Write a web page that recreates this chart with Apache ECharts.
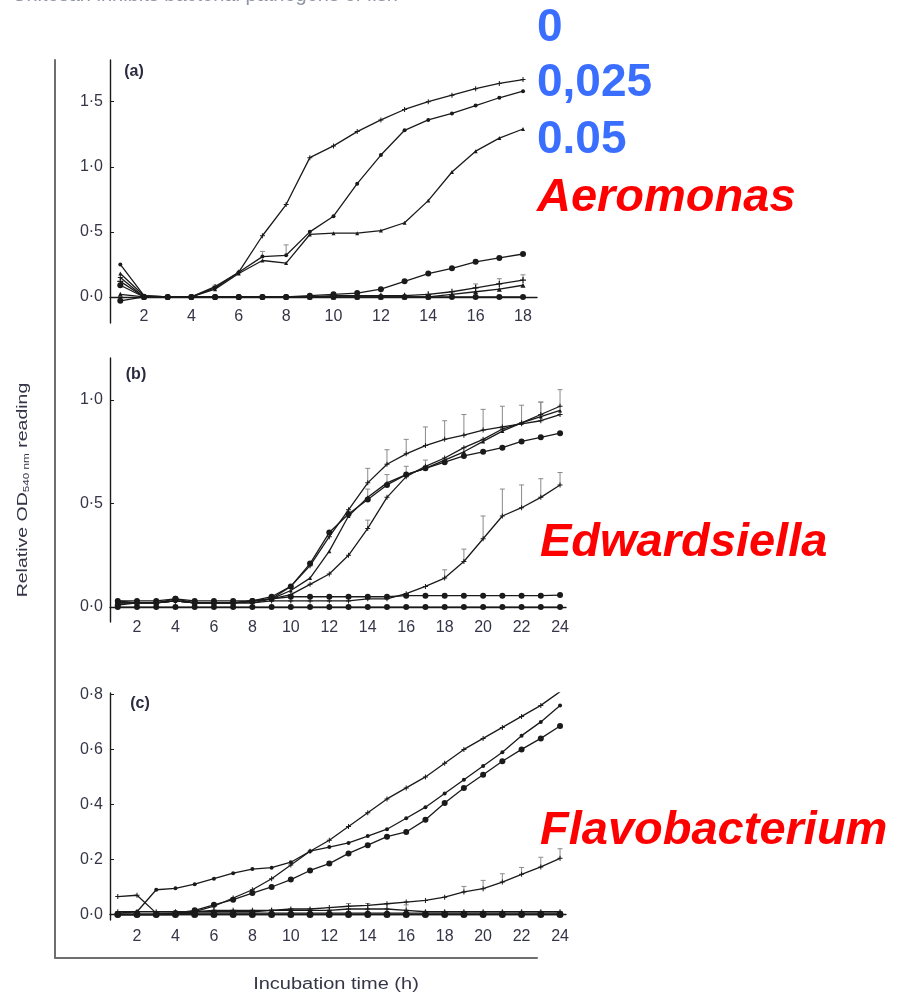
<!DOCTYPE html>
<html>
<head>
<meta charset="utf-8">
<title>Chitosan growth curves</title>
<script src="https://cdn.jsdelivr.net/npm/echarts@6/dist/echarts.min.js"></script>
<style>
  html, body { margin: 0; padding: 0; background: #fff; }
  #chart { width: 897px; height: 995px; }
</style>
</head>
<body>
<div id="chart"></div>
<script>
  // incubation hours
  var hoursA = [1, 2, 3, 4, 5, 6, 7, 8, 9, 10, 11, 12, 13, 14, 15, 16, 17, 18];
  var hoursBC = [1, 2, 3, 4, 5, 6, 7, 8, 9, 10, 11, 12, 13, 14, 15, 16, 17, 18, 19, 20, 21, 22, 23, 24];

  // tick labels
  var xTicksA = [2, 4, 6, 8, 10, 12, 14, 16, 18];
  var xTicksBC = [2, 4, 6, 8, 10, 12, 14, 16, 18, 20, 22, 24];
  var yTicksA = [0, 0.5, 1.0, 1.5];
  var yTicksB = [0, 0.5, 1.0];
  var yTicksC = [0, 0.2, 0.4, 0.6, 0.8];

  // (a) Aeromonas
  var aS1 = [0.15, 0, 0, 0, 0.08, 0.19, 0.47, 0.71, 1.07, 1.16, 1.27, 1.36, 1.44, 1.5, 1.55, 1.6, 1.64, 1.67];
  var aS2 = [0.25, 0.01, 0, 0, 0.07, 0.19, 0.31, 0.32, 0.5, 0.62, 0.87, 1.09, 1.28, 1.36, 1.41, 1.47, 1.53, 1.58];
  var aS3 = [0.18, 0.01, 0, 0, 0.06, 0.18, 0.28, 0.26, 0.48, 0.49, 0.49, 0.51, 0.57, 0.74, 0.96, 1.12, 1.22, 1.29];
  var aS4 = [0.09, 0, 0, 0, 0, 0, 0, 0, 0.01, 0.02, 0.03, 0.06, 0.12, 0.18, 0.22, 0.27, 0.3, 0.33];
  var aS5 = [0.12, 0, 0, 0, 0, 0, 0, 0, 0, 0.01, 0.01, 0.01, 0.01, 0.02, 0.04, 0.07, 0.1, 0.13];
  var aS6 = [0.02, 0, 0, 0, 0, 0, 0, 0, 0, 0, 0, 0, 0, 0, 0.02, 0.04, 0.06, 0.09];
  var aS7 = [-0.03, 0, 0, 0, 0, 0, 0, 0, 0, 0, 0, 0, 0, 0, 0, 0, 0, 0];
  var aErr2 = [0, 0, 0, 0, 0.02, 0, 0.04, 0.08, 0, 0, 0, 0, 0, 0, 0, 0, 0, 0];
  var aErr5 = [0, 0, 0, 0, 0, 0, 0, 0, 0, 0, 0, 0, 0, 0, 0, 0.03, 0.04, 0.04];

  // (b) Edwardsiella
  var bS1 = [0.02, 0.02, 0.02, 0.03, 0.02, 0.02, 0.02, 0.03, 0.04, 0.1, 0.2, 0.34, 0.47, 0.6, 0.69, 0.74, 0.78, 0.81, 0.83, 0.855, 0.87, 0.885, 0.9, 0.93];
  var bS2 = [0.01, 0.02, 0.02, 0.04, 0.02, 0.02, 0.02, 0.03, 0.05, 0.1, 0.21, 0.36, 0.45, 0.52, 0.59, 0.64, 0.67, 0.7, 0.73, 0.75, 0.77, 0.8, 0.82, 0.84];
  var bS3 = [0.02, 0.02, 0.02, 0.03, 0.02, 0.02, 0.02, 0.03, 0.04, 0.08, 0.14, 0.27, 0.44, 0.53, 0.6, 0.64, 0.67, 0.71, 0.75, 0.8, 0.85, 0.89, 0.92, 0.95];
  var bS4 = [0.03, 0.02, 0.02, 0.03, 0.02, 0.02, 0.02, 0.02, 0.04, 0.06, 0.11, 0.16, 0.25, 0.38, 0.53, 0.63, 0.68, 0.72, 0.77, 0.81, 0.86, 0.89, 0.93, 0.97];
  var bS5 = [0.02, 0.02, 0.02, 0.03, 0.02, 0.02, 0.02, 0.02, 0.03, 0.03, 0.03, 0.03, 0.03, 0.04, 0.04, 0.065, 0.1, 0.14, 0.22, 0.33, 0.44, 0.48, 0.53, 0.59];
  var bS6 = [0.03, 0.03, 0.03, 0.04, 0.03, 0.03, 0.03, 0.03, 0.04, 0.05, 0.05, 0.05, 0.05, 0.05, 0.05, 0.055, 0.055, 0.055, 0.055, 0.055, 0.055, 0.055, 0.055, 0.058];
  var bS7 = [0, 0, 0, 0, 0, 0, 0, 0, 0, 0, 0, 0, 0, 0, 0, 0, 0, 0, 0, 0, 0, 0, 0, 0];
  var bErr1 = [0, 0, 0, 0, 0, 0, 0, 0, 0, 0, 0, 0, 0, 0.07, 0.07, 0.07, 0.09, 0.09, 0.1, 0.1, 0.1, 0.09, 0.09, 0];
  var bErr2 = [0, 0, 0, 0, 0, 0, 0, 0, 0, 0, 0, 0, 0, 0.05, 0.05, 0.04, 0.04, 0, 0, 0, 0, 0, 0, 0];
  var bErr4 = [0, 0, 0, 0, 0, 0, 0, 0, 0, 0, 0, 0, 0, 0.04, 0, 0, 0, 0, 0, 0, 0, 0, 0.06, 0.08];
  var bErr5 = [0, 0, 0, 0, 0, 0, 0, 0, 0, 0, 0, 0, 0, 0, 0, 0, 0, 0.04, 0.06, 0.11, 0.13, 0.11, 0.09, 0.06];

  // (c) Flavobacterium
  var cS1 = [0, 0, 0, 0, 0.01, 0.03, 0.06, 0.09, 0.13, 0.18, 0.23, 0.27, 0.32, 0.37, 0.42, 0.46, 0.5, 0.55, 0.6, 0.64, 0.68, 0.72, 0.76, 0.81];
  var cS2 = [0.005, 0.01, 0.09, 0.095, 0.11, 0.13, 0.15, 0.165, 0.17, 0.19, 0.23, 0.245, 0.26, 0.285, 0.31, 0.35, 0.39, 0.44, 0.49, 0.54, 0.59, 0.65, 0.7, 0.76];
  var cS3 = [0, 0, 0, 0.005, 0.015, 0.035, 0.054, 0.078, 0.1, 0.127, 0.16, 0.185, 0.222, 0.252, 0.283, 0.3, 0.344, 0.405, 0.46, 0.508, 0.557, 0.6, 0.64, 0.685];
  var cS4 = [0.01, 0.01, 0.01, 0.01, 0.01, 0.01, 0.01, 0.01, 0.015, 0.02, 0.02, 0.025, 0.03, 0.033, 0.039, 0.045, 0.051, 0.063, 0.082, 0.094, 0.118, 0.146, 0.173, 0.204];
  var cS5 = [0.065, 0.07, 0.005, 0.005, 0.01, 0.015, 0.015, 0.015, 0.015, 0.015, 0.015, 0.015, 0.02, 0.02, 0.02, 0.015, 0.01, 0.01, 0.01, 0.01, 0.01, 0.01, 0.01, 0.01];
  var cS6 = [0, 0, 0, 0, 0.005, 0.005, 0.005, 0.005, 0.005, 0.005, 0.005, 0.005, 0.005, 0.005, 0.005, 0.005, 0.005, 0.005, 0.005, 0.005, 0.005, 0.005, 0.005, 0.005];
  var cS7 = [0, 0, 0, 0, 0, 0, 0, 0, 0, 0, 0, 0, 0, 0, 0, 0, 0, 0, 0, 0, 0, 0, 0, 0];
  var cErr4 = [0, 0, 0, 0, 0, 0, 0, 0, 0, 0, 0, 0, 0, 0, 0, 0, 0, 0, 0.02, 0.03, 0.03, 0.025, 0.035, 0.035];
  var cErr5 = [0, 0, 0, 0, 0, 0, 0, 0, 0, 0, 0, 0, 0.02, 0.02, 0.02, 0.02, 0, 0, 0, 0, 0, 0, 0, 0];

  var plusPath = 'path://M4,0h2v4h4v2h-4v4h-2v-4h-4v-2h4z';
  var lineCol = '#1a1a1a';
  var textCol = '#353548';
  var labelFont = 'Liberation Sans, Arial, sans-serif';

  function curve(idx, hours, vals, symbol, size) {
    return {
      type: 'line',
      xAxisIndex: idx,
      yAxisIndex: idx,
      data: hours.map(function (h, i) { return [h, vals[i]]; }),
      symbol: symbol,
      symbolSize: size || 5,
      showSymbol: true,
      lineStyle: { color: lineCol, width: 1.3 },
      itemStyle: { color: lineCol },
      animation: false,
      z: 3
    };
  }

  function errBars(idx, hours, vals, errs) {
    var data = [];
    hours.forEach(function (h, i) {
      if (errs[i] > 0) data.push([h, vals[i], vals[i] + errs[i]]);
    });
    return {
      type: 'custom',
      xAxisIndex: idx,
      yAxisIndex: idx,
      data: data,
      encode: { x: 0, y: [1, 2] },
      animation: false,
      z: 2,
      renderItem: function (params, api) {
        var p0 = api.coord([api.value(0), api.value(1)]);
        var p1 = api.coord([api.value(0), api.value(2)]);
        return {
          type: 'group',
          children: [
            { type: 'line', shape: { x1: p0[0], y1: p0[1], x2: p1[0], y2: p1[1] }, style: { stroke: '#8a8a8a', lineWidth: 1 } },
            { type: 'line', shape: { x1: p1[0] - 2.5, y1: p1[1], x2: p1[0] + 2.5, y2: p1[1] }, style: { stroke: '#8a8a8a', lineWidth: 1 } }
          ]
        };
      }
    };
  }

  function fmtDot(v) {
    return v.toFixed(1).replace('.', '·');
  }

  // labels sit relative to the grid bottom, so margin is tuned per panel
  function xAxisFor(idx, min, max, ticks, margin) {
    return {
      gridIndex: idx, type: 'value', min: min, max: max,
      axisLine: { show: true, onZero: true, lineStyle: { color: lineCol, width: 1.4 } },
      axisTick: { show: false },
      splitLine: { show: false },
      axisLabel: {
        customValues: ticks, margin: margin, fontSize: 16,
        color: textCol, fontFamily: labelFont
      }
    };
  }

  function yAxisFor(idx, min, max, ticks) {
    return {
      gridIndex: idx, type: 'value', min: min, max: max,
      axisLine: { show: true, onZero: false, lineStyle: { color: lineCol, width: 1.4 } },
      axisTick: { show: true, inside: true, length: 4, customValues: ticks, lineStyle: { color: lineCol } },
      splitLine: { show: false },
      axisLabel: {
        customValues: ticks, margin: 7, fontSize: 16,
        color: textCol, fontFamily: labelFont, formatter: fmtDot
      }
    };
  }

  var series = [
    curve(0, hoursA, aS7, 'circle', 6),
    curve(0, hoursA, aS6, 'triangle'),
    curve(0, hoursA, aS5, plusPath, 6),
    curve(0, hoursA, aS4, 'circle', 6),
    curve(0, hoursA, aS3, 'triangle', 4),
    curve(0, hoursA, aS2, 'circle', 4),
    curve(0, hoursA, aS1, plusPath, 5),
    errBars(0, hoursA, aS2, aErr2),
    errBars(0, hoursA, aS5, aErr5),

    curve(1, hoursBC, bS7, 'circle', 6),
    curve(1, hoursBC, bS6, 'circle', 6),
    curve(1, hoursBC, bS5, plusPath, 5),
    curve(1, hoursBC, bS4, plusPath, 5),
    curve(1, hoursBC, bS3, 'triangle', 4),
    curve(1, hoursBC, bS2, 'circle', 6),
    curve(1, hoursBC, bS1, plusPath, 5),
    errBars(1, hoursBC, bS1, bErr1),
    errBars(1, hoursBC, bS2, bErr2),
    errBars(1, hoursBC, bS4, bErr4),
    errBars(1, hoursBC, bS5, bErr5),

    curve(2, hoursBC, cS7, 'circle', 7),
    curve(2, hoursBC, cS6, 'circle'),
    curve(2, hoursBC, cS5, plusPath, 5),
    curve(2, hoursBC, cS4, plusPath, 5),
    curve(2, hoursBC, cS3, 'circle', 6),
    curve(2, hoursBC, cS2, 'circle', 4),
    curve(2, hoursBC, cS1, plusPath, 5),
    errBars(2, hoursBC, cS4, cErr4),
    errBars(2, hoursBC, cS5, cErr5)
  ];

  var chart = echarts.init(document.getElementById('chart'), null, { renderer: 'canvas' });

  chart.setOption({
    backgroundColor: '#fff',
    animation: false,
    grid: [
      { left: 110, top: 60, width: 427, height: 263 },
      { left: 110, top: 358, width: 456, height: 264 },
      { left: 110, top: 693, width: 456, height: 227 },
      { left: 55, top: 60, width: 482, height: 898 }
    ],
    xAxis: [
      xAxisFor(0, 0.565, 18.59, xTicksA, -14),
      xAxisFor(1, 0.596, 24.31, xTicksBC, -2),
      xAxisFor(2, 0.596, 24.31, xTicksBC, 9),
      {
        gridIndex: 3, type: 'value', min: 0, max: 1,
        axisLine: { show: true, onZero: false, lineStyle: { color: '#6e6e6e', width: 2 } },
        axisTick: { show: false }, axisLabel: { show: false }, splitLine: { show: false }
      }
    ],
    yAxis: [
      yAxisFor(0, -0.2, 1.82, yTicksA),
      yAxisFor(1, -0.072, 1.203, yTicksB),
      yAxisFor(2, -0.02, 0.805, yTicksC),
      {
        gridIndex: 3, type: 'value', min: 0, max: 1,
        axisLine: { show: true, onZero: false, lineStyle: { color: '#6e6e6e', width: 2 } },
        axisTick: { show: false }, axisLabel: { show: false }, splitLine: { show: false }
      }
    ],
    series: series,
    graphic: [
      // cropped running head
      { type: 'text', left: 12, top: -15, style: { text: 'Chitosan inhibits bacterial pathogens of fish', fontSize: 20, fill: '#9095a5', fontFamily: labelFont } },

      // panel tags
      { type: 'text', x: 134, y: 72, style: { text: '(a)', fontSize: 16, fontWeight: 'bold', fill: '#2a2a40', align: 'center', verticalAlign: 'middle', fontFamily: labelFont } },
      { type: 'text', x: 136, y: 375, style: { text: '(b)', fontSize: 16, fontWeight: 'bold', fill: '#2a2a40', align: 'center', verticalAlign: 'middle', fontFamily: labelFont } },
      { type: 'text', x: 140, y: 704, style: { text: '(c)', fontSize: 16, fontWeight: 'bold', fill: '#2a2a40', align: 'center', verticalAlign: 'middle', fontFamily: labelFont } },

      // axis titles
      {
        type: 'text', x: 23, y: 490, rotation: Math.PI / 2, scaleX: 1.3,
        style: {
          text: '{a|Relative OD}{s|540 nm}{a| reading}',
          align: 'center', verticalAlign: 'middle',
          rich: {
            a: { fontSize: 15, lineHeight: 18, fill: textCol, fontFamily: labelFont },
            s: { fontSize: 9, lineHeight: 18, fill: textCol, fontFamily: labelFont, padding: [7, 0, 0, 0] }
          }
        }
      },
      { type: 'text', x: 336, y: 985, scaleX: 1.25, style: { text: 'Incubation time (h)', fontSize: 16, fill: textCol, align: 'center', verticalAlign: 'middle', fontFamily: labelFont } },

      // concentration and species labels
      { type: 'text', x: 537, y: 28, style: { text: '0', fontSize: 46, fontWeight: 'bold', fill: '#3a6eff', verticalAlign: 'middle', fontFamily: labelFont } },
      { type: 'text', x: 537, y: 83, style: { text: '0,025', fontSize: 46, fontWeight: 'bold', fill: '#3a6eff', verticalAlign: 'middle', fontFamily: labelFont } },
      { type: 'text', x: 537, y: 140, style: { text: '0.05', fontSize: 46, fontWeight: 'bold', fill: '#3a6eff', verticalAlign: 'middle', fontFamily: labelFont } },
      { type: 'text', x: 537, y: 198, style: { text: 'Aeromonas', fontSize: 47, fontWeight: 'bold', fontStyle: 'italic', fill: '#ff0000', verticalAlign: 'middle', fontFamily: labelFont } },
      { type: 'text', x: 540, y: 543, style: { text: 'Edwardsiella', fontSize: 47, fontWeight: 'bold', fontStyle: 'italic', fill: '#ff0000', verticalAlign: 'middle', fontFamily: labelFont } },
      { type: 'text', x: 540, y: 831, style: { text: 'Flavobacterium', fontSize: 47, fontWeight: 'bold', fontStyle: 'italic', fill: '#ff0000', verticalAlign: 'middle', fontFamily: labelFont } }
    ]
  });
</script>
</body>
</html>
